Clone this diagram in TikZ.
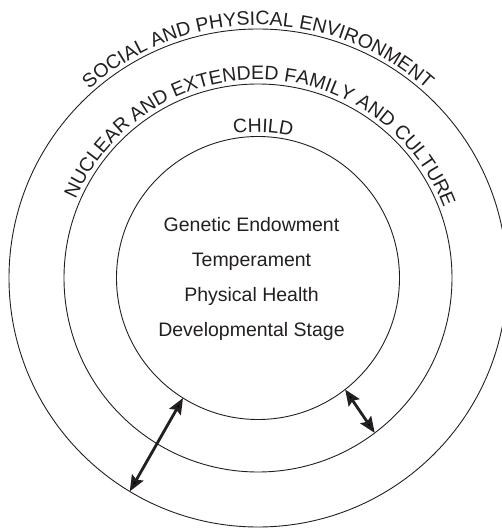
\documentclass[tikz,border=0pt]{standalone}
\usepackage{fontspec}
\setmainfont{Liberation Sans}
\usetikzlibrary{decorations.text, arrows.meta, calc}
\definecolor{ink}{HTML}{231F20}
\begin{document}
\begin{tikzpicture}[x=1pt,y=1pt,
  ring/.style={circle, draw=ink, line width=0.9pt, inner sep=0pt, outer sep=0pt},
  inlabel/.style={text=ink, font=\fontsize{19.5}{20}\selectfont, anchor=base, inner sep=0pt},
  link/.style={draw=ink, line width=2.8pt, {Stealth[length=16pt,width=13pt,inset=2.5pt]}-{Stealth[length=16pt,width=13pt,inset=2.5pt]}},
  arctext/.style={decorate, decoration={text along path, text align=center, text color=ink, text={#1}}}
]
\useasboundingbox (0,0) rectangle (502,528);
\coordinate (C) at (258,250);
\node[ring, minimum size=283pt] (inner) at (C) {};
\node[ring, minimum size=388pt] (middle) at (C) {};
\node[ring, minimum size=498pt] (outer) at (C) {};

\path[arctext={|\fontsize{19.5}{20}\selectfont|SOCIAL AND PHYSICAL ENVIRONMENT}]
  ($(C)+(180:253)$) arc[start angle=180, end angle=0, radius=253];
\path[arctext={|\fontsize{19.5}{20}\selectfont|NUCLEAR AND EXTENDED FAMILY AND CULTURE}]
  ($(C)+(178.7:198.5)$) arc[start angle=178.7, end angle=-1.3, radius=198.5];
\path[arctext={|\fontsize{19.5}{20}\selectfont|CHILD}]
  ($(C)+(178:146)$) arc[start angle=178, end angle=-2, radius=146];

\node[inlabel] (gen) at (251.5,296) {Genetic Endowment};
\node[inlabel] (temp) at (251.5,261) {Temperament};
\node[inlabel] (phys) at (251.5,226) {Physical Health};
\node[inlabel] (dev) at (251.5,191) {Developmental Stage};

\draw[link] (inner.238.5) -- (outer.239.5);
\draw[link] (inner.308.5) -- (middle.307);
\end{tikzpicture}
\end{document}
